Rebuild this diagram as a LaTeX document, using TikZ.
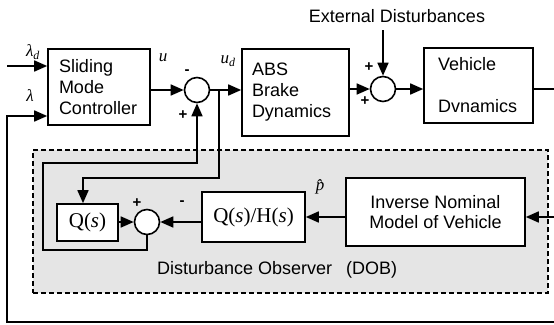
\documentclass[tikz,border=0pt]{standalone}
\usepackage{fontspec}
\setmainfont{Liberation Serif}
\setsansfont{Liberation Sans}
\usetikzlibrary{arrows.meta}
\begin{document}
\begin{tikzpicture}[x=1pt,y=-1pt,
  blk/.style={draw, line width=1.6pt, fill=white, inner sep=0pt,
    font=\sffamily\fontsize{18}{21}\selectfont},
  sumc/.style={circle, draw, line width=1.6pt, minimum size=25pt, inner sep=0pt, fill=white},
  sig/.style={line width=1.6pt, -{Triangle[length=13pt,width=11pt]}},
  ln/.style={line width=1.6pt},
  lbl/.style={font=\fontsize{17}{17}\selectfont\itshape, inner sep=0pt},
  sgn/.style={font=\sffamily\bfseries\fontsize{15}{15}\selectfont, inner sep=0pt},
  dobbox/.style={draw, dash pattern=on 5pt off 3pt, line width=1.3pt, fill=black!10,
    inner sep=0pt}]
\useasboundingbox (0,0) rectangle (554,324);

% observer region
\node[dobbox, minimum width=515pt, minimum height=143pt] (dob) at (290.5,221.5) {};
\node[font=\sffamily\fontsize{18}{21}\selectfont, anchor=base west, inner sep=0pt] (dobt)
  at (157,274) {Disturbance Observer\hspace{14pt}(DOB)};

% main blocks
\node[blk, text width=80pt, align=left, inner xsep=11pt, minimum height=76pt] (smc)
  at (99,87) {Sliding\\Mode\\Controller};
\node[blk, text width=87pt, align=left, inner xsep=10pt, minimum height=87pt] (abs)
  at (295.5,92.5) {ABS\\Brake\\Dynamics};
\node[blk, text width=81pt, align=left, inner xsep=14pt, minimum height=75pt] (veh)
  at (478.5,85.5) {Vehicle\\[21pt]Dvnamics};
\node[blk, align=center, minimum width=179pt, minimum height=68pt,
  font=\sffamily\fontsize{18}{20}\selectfont] (inv)
  at (435.5,212) {Inverse Nominal\\Model of Vehicle};
\node[blk, minimum width=103pt, minimum height=50pt, font=\fontsize{21}{24}\selectfont] (qh)
  at (253.5,217) {Q(\textit{s})/H(\textit{s})};
\node[blk, minimum width=61pt, minimum height=37pt, font=\fontsize{21}{24}\selectfont] (q)
  at (87.5,222.5) {Q(\textit{s})};

% summing junctions
\node[sumc] (c1) at (197,90) {};
\node[sumc] (c2) at (147,222) {};
\node[sumc] (c3) at (383,89) {};

% external disturbance label
\node[font=\sffamily\fontsize{18}{21}\selectfont, inner sep=0pt] (ext) at (397,16) {External Disturbances};

% coordinates
\coordinate (ld) at (7,66);
\coordinate (lfb) at (7,116);
\coordinate (lbot) at (7,322);
\coordinate (rbot) at (554,322);
\coordinate (out) at (554,89);
\coordinate (rin) at (554,217);
\coordinate (br) at (219,90);
\coordinate (qin) at (83,178);
\coordinate (l1) at (43,250);
\coordinate (l2) at (197,163);
\coordinate (et) at (383,30);

% signals
\draw[sig] (ld) -- (ld -| smc.west);
\draw[sig] (rbot) -- (lbot) -- (lfb) -- (lfb -| smc.west);
\draw[sig] (smc.east |- c1) -- (c1.west);
\draw[sig] (c1.east) -- (c1 -| abs.west);
\draw[sig] (abs.east |- c3) -- (c3.west);
\draw[sig] (et) -- (c3.north);
\draw[sig] (c3.east) -- (c3 -| veh.west);
\draw[ln] (veh.east |- c3) -- (out);
\draw[sig] (br) |- (qin) -- (qin |- q.north);
\draw[sig] (c2.south) |- (l1) |- (l2) -- (c1.south);
\draw[sig] (rin) -- (rin -| inv.east);
\draw[sig] (inv.west |- qh) -- (qh.east);
\draw[sig] (qh.west |- c2) -- (c2.east);
\draw[sig] (q.east |- c2) -- (c2.west);

% labels
\node[lbl] (lamd) at (33,52) {λ\textsubscript{\textit{d}}};
\node[lbl] (lam) at (30,96) {λ};
\node[lbl] (u) at (163,58) {u};
\node[lbl] (ud) at (228,61) {u\textsubscript{\textit{d}}};
\node[lbl] (ph) at (320,187) {\^p};

% signs
\node[sgn] (s1a) at (187,72) {-};
\node[sgn] (s1b) at (183,115) {+};
\node[sgn] (s3a) at (369,67) {+};
\node[sgn] (s3b) at (365,101) {+};
\node[sgn] (s2a) at (137,203) {+};
\node[sgn] (s2b) at (182,203) {-};
\end{tikzpicture}
\end{document}
